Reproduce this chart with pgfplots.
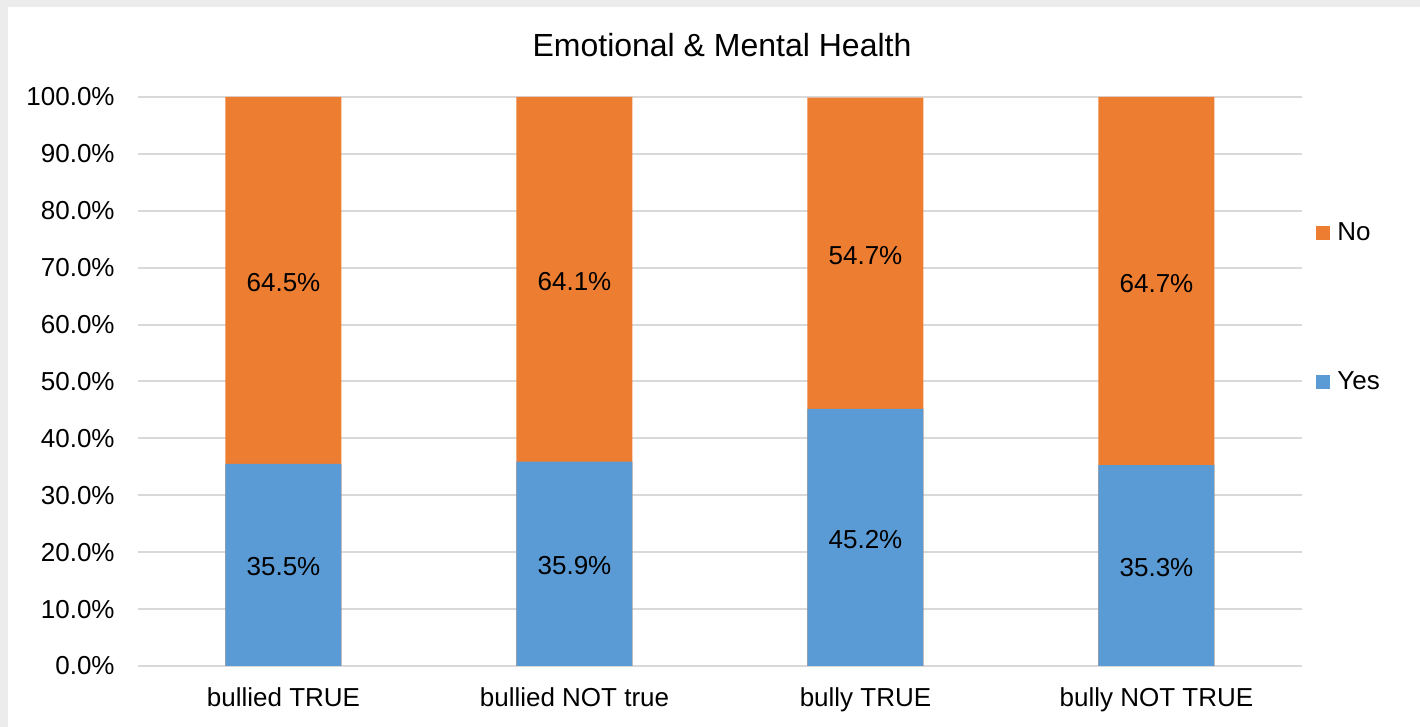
\documentclass[border=0pt]{standalone}
\usepackage{pgfplots}
\pgfplotsset{compat=1.18}
\usepackage{pgfplotstable}
\usepackage{fontspec}
\setmainfont{Liberation Sans}

\definecolor{cYes}{HTML}{5B9BD5}
\definecolor{cNo}{HTML}{ED7D31}
\definecolor{gridgray}{HTML}{D9D9D9}
\definecolor{framegray}{HTML}{ECECEC}

% share of answers (percent) per group
\pgfplotstableread{
x yes no
0 35.5 64.5
1 35.9 64.1
2 45.2 54.7
3 35.3 64.7
}\health

\begin{document}
\begin{tikzpicture}
\useasboundingbox (0pt,0pt) rectangle (710pt,363.5pt);
\fill[framegray] (0pt,0pt) rectangle (710pt,363.5pt);
\fill[white] (4pt,0pt) rectangle (710pt,360pt);
\begin{axis}[
  at={(69pt,30.5pt)}, anchor=south west,
  scale only axis, width=582pt, height=284.5pt,
  xmin=-0.5, xmax=3.5, ymin=0, ymax=100,
  axis line style={draw=none},
  major tick length=0pt,
  ymajorgrids, grid style={gridgray, line width=1pt},
  ytick={0,10,...,100},
  yticklabel={\pgfmathprintnumber[fixed,fixed zerofill,precision=1]{\tick}\%},
  xtick={0,1,2,3},
  xticklabels={bullied TRUE, bullied NOT true, bully TRUE, bully NOT TRUE},
  /pgf/number format/assume math mode=true,
  tick label style={font=\fontsize{13}{15}\selectfont, text=black},
  yticklabel style={anchor=base east, inner sep=0pt, xshift=-11.5pt, yshift=-4.5pt},
  xticklabel style={anchor=base, inner sep=0pt, yshift=-20.5pt},
  title={Emotional \& Mental Health},
  title style={font=\fontsize{16}{19}\selectfont, at={(0.5,1)}, anchor=base, inner sep=0pt, xshift=1pt, yshift=14pt},
  legend style={font=\fontsize{13}{15}\selectfont, draw=none, fill=none,
    at={(1.012,0.63)}, anchor=west, inner sep=0pt, row sep=62.5pt, column sep=2.5pt,
    nodes={inner sep=1pt}},
  legend cell align=left,
  legend image code/.code={\fill[#1] (0pt,-3.5pt) rectangle (7pt,3.5pt);},
  every node near coord/.append style={font=\fontsize{13}{15}\selectfont, text=black, anchor=center, yshift=-1pt},
  clip=false,
]
% orange bars span the full stack, blue bars cover the lower part
\addplot[ybar, bar width=58pt, bar shift=0pt, fill=cNo, draw=none]
  table[x=x, y expr=\thisrow{yes}+\thisrow{no}] {\health};
\addlegendentry{No}
\addplot[ybar, bar width=58pt, bar shift=0pt, fill=cYes, draw=none]
  table[x=x, y=yes] {\health};
\addlegendentry{Yes}
% value labels in the middle of each segment
\addplot[draw=none, mark=none, forget plot, point meta=explicit,
  nodes near coords={\pgfmathprintnumber[fixed,fixed zerofill,precision=1]{\pgfplotspointmeta}\%},
  nodes near coords align=center]
  table[x=x, y expr=\thisrow{yes}/2, meta=yes] {\health};
\addplot[draw=none, mark=none, forget plot, point meta=explicit,
  nodes near coords={\pgfmathprintnumber[fixed,fixed zerofill,precision=1]{\pgfplotspointmeta}\%},
  nodes near coords align=center]
  table[x=x, y expr=\thisrow{yes}+\thisrow{no}/2, meta=no] {\health};
\end{axis}
\end{tikzpicture}
\end{document}
